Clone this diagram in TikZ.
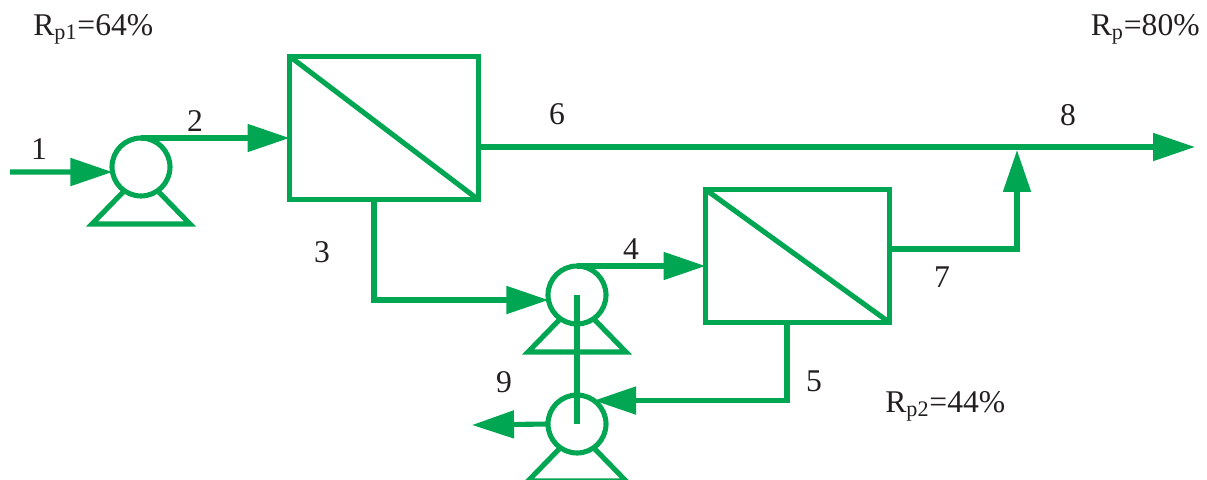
\documentclass[tikz,border=0pt]{standalone}
\usepackage{fontspec}
\setmainfont{Liberation Serif}
\usepackage{tikz}
\usetikzlibrary{arrows.meta,calc,positioning}
\definecolor{pipegreen}{RGB}{0,166,81}
\definecolor{labelgray}{RGB}{35,31,32}

\begin{document}
\begin{tikzpicture}[x=0.02cm,y=-0.02cm,
  pipe/.style={draw=pipegreen,line width=2.9pt},
  flow/.style={pipe,-{Triangle[length=0.84cm,width=0.54cm]}},
  pump/.style={circle,pipe,minimum size=1.16cm,inner sep=0pt,outer sep=0pt},
  membrane/.style={rectangle,pipe,inner sep=0pt,outer sep=0pt},
  num/.style={text=labelgray,inner sep=0pt,font=\fontsize{18}{22}\selectfont}]
\useasboundingbox (0,0) rectangle (1207,480);
\node[pump] (p1) at (141,167) {};
\node[pump] (p2) at (577,295) {};
\node[pump] (p3) at (577,424) {};
\foreach \p in {p1,p2,p3}
  \draw[pipe,line join=miter] (\p.235) -- ($(\p.center)+(-49,57)$) -- ($(\p.center)+(49,57)$) -- (\p.305);
\node[membrane,minimum width=3.78cm,minimum height=2.87cm] (m1) at (384,128) {};
\node[membrane,minimum width=3.68cm,minimum height=2.66cm] (m2) at (797.5,256) {};
\draw[pipe] (m1.north west) -- (m1.south east);
\draw[pipe] (m2.north west) -- (m2.south east);
\coordinate (in1) at (10,172);
\coordinate (out8) at (1195,147);
\coordinate (j7) at (1017,150);
\coordinate (out9) at (472,425);
\draw[flow] (in1) -- (p1.190);
\draw[flow] (p1.north) -- (p1.north -| m1.west);
\draw[flow] (out8 -| m1.east) -- (out8);
\draw[flow] ($(m1.south)+(-10,0)$) |- (p2.190);
\draw[flow] (p2.north) -- (p2.north -| m2.west);
\draw[flow] ($(m2.east)+(0,-7)$) -| (j7);
\draw[flow] ($(m2.south)+(-10.5,0)$) |- (p3.54);
\draw[flow] (p3.west) -- (out9);
\draw[pipe] (p2.center) -- (p3.center);
\node[num] (l1) at (39,149) {1};
\node[num] (l2) at (195,121) {2};
\node[num] (l3) at (322,252) {3};
\node[num] (l4) at (631,249) {4};
\node[num] (l5) at (814,381) {5};
\node[num] (l6) at (557,114) {6};
\node[num] (l7) at (942,277) {7};
\node[num] (l8) at (1068,115) {8};
\node[num] (l9) at (504,382) {9};
\node[num,anchor=base west] (rp1) at (33,35) {R\textsubscript{p1}=64\%};
\node[num,anchor=base east] (rp) at (1200,35) {R\textsubscript{p}=80\%};
\node[num,anchor=base west] (rp2) at (885,412) {R\textsubscript{p2}=44\%};
\end{tikzpicture}
\end{document}
